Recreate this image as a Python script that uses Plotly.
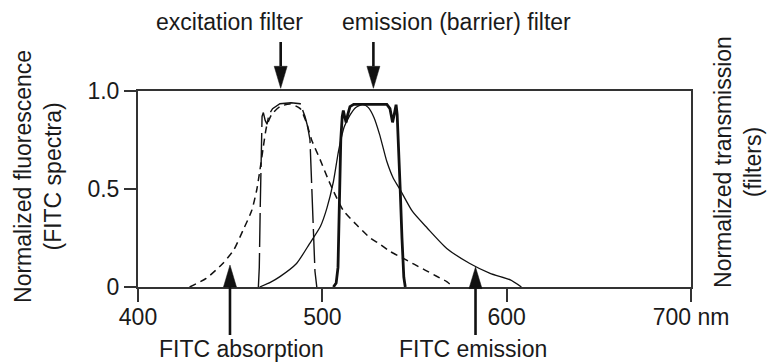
import plotly.graph_objects as go

# ---------------- data ----------------
abs_nm = [428, 437, 446, 452, 457, 461.7, 464.4, 466.2, 468, 469.8, 472.5, 477, 482.5,
          488, 491.5, 494.2, 498.8, 503.3, 506, 511.4, 518.7, 526, 531, 537, 544, 550,
          556, 562, 567.5, 571]
abs_y = [0, 0.044, 0.12, 0.19, 0.29, 0.39, 0.495, 0.60, 0.716, 0.82, 0.88, 0.92, 0.934,
         0.91, 0.835, 0.75, 0.65, 0.546, 0.49, 0.39, 0.316, 0.25, 0.22, 0.18, 0.146, 0.115,
         0.085, 0.055, 0.027, 0]

exc_nm = [465.3, 465.8, 466.3, 466.8, 467.3, 468, 469, 470, 471, 473, 477, 483, 488,
          490.6, 492, 493.3, 494.2, 495.1, 496, 497]
exc_y = [0, 0.1, 0.4, 0.75, 0.87, 0.89, 0.85, 0.83, 0.88, 0.91, 0.935, 0.94, 0.935,
         0.87, 0.82, 0.75, 0.5, 0.24, 0.08, 0]

em_nm = [466, 472, 477, 486, 493, 499, 502.4, 506, 508.7, 510.5, 512, 515, 518, 522,
         525, 528, 531, 533, 535, 538.5, 542, 549, 557, 567.5, 580, 591, 602, 608]
em_y = [0, 0.025, 0.053, 0.12, 0.22, 0.31, 0.40, 0.537, 0.69, 0.77, 0.82, 0.877, 0.915,
        0.932, 0.915, 0.865, 0.78, 0.71, 0.64, 0.555, 0.50, 0.384, 0.30, 0.197, 0.12,
        0.07, 0.036, 0]

bar_nm = [506, 507.5, 508.5, 509.3, 510, 510.8, 511.4, 512.1, 512.9, 513.8, 515, 517,
          535, 536.7, 537.5, 538.1, 539, 540, 540.6, 541.2, 542.2, 543.2, 544.2, 545]
bar_y = [0, 0.02, 0.1, 0.4, 0.75, 0.87, 0.90, 0.87, 0.84, 0.88, 0.92, 0.932,
         0.932, 0.91, 0.87, 0.84, 0.88, 0.93, 0.88, 0.70, 0.51, 0.25, 0.05, 0]

x_ticks = [400, 500, 600, 700]
x_ticktext = ["400", "500", "600", "700 nm"]
y_ticks = [0, 0.5, 1.0]
y_ticktext = ["0", "0.5", "1.0"]

X_RANGE = [400, 700]
FONT = "Liberation Sans, Arial, Helvetica, sans-serif"
INK = "#111111"
TXT = "#1a1a1a"


def px_x(nm):
    """nm -> paper x fraction"""
    return (nm - X_RANGE[0]) / (X_RANGE[1] - X_RANGE[0])


fig = go.Figure()

fig.add_trace(go.Scatter(x=abs_nm, y=abs_y, mode="lines", name="FITC absorption",
                         line=dict(color=INK, width=1.5, dash="7px,5px", shape="spline",
                                   smoothing=0.6)))
fig.add_trace(go.Scatter(x=exc_nm, y=exc_y, mode="lines", name="excitation filter",
                         line=dict(color=INK, width=1.4, dash="34px,6px")))
fig.add_trace(go.Scatter(x=em_nm, y=em_y, mode="lines", name="FITC emission",
                         line=dict(color=INK, width=1.3, shape="spline", smoothing=0.6)))
fig.add_trace(go.Scatter(x=bar_nm, y=bar_y, mode="lines", name="emission (barrier) filter",
                         line=dict(color=INK, width=2.8)))

# ---------------- arrows (decorations, paper coords) ----------------
# (x in nm, tip y, base y, tail y) in paper fraction of plot height
arrows = [
    (477.4, 1.014, 1.126, 1.25),
    (527.7, 1.014, 1.126, 1.25),
    (449.9, 0.112, 0.0, -0.245),
    (583.1, 0.102, -0.008, -0.245),
]
HW = 6.5 / 553  # half width of arrow head in paper x
shapes = []
for nm, tip, base, tail in arrows:
    xp = px_x(nm)
    shapes.append(dict(type="line", xref="paper", yref="paper", x0=xp, x1=xp,
                       y0=base, y1=tail, line=dict(color=INK, width=2.6)))
    shapes.append(dict(type="path", xref="paper", yref="paper",
                       path=f"M {xp - HW},{base} L {xp + HW},{base} L {xp},{tip} Z",
                       fillcolor=INK, line=dict(color=INK, width=0.5)))

annotations = [
    dict(text="excitation filter", x=449.9, xref="x", y=1.352, yref="paper",
         showarrow=False, xanchor="center", yanchor="middle"),
    dict(text="emission (barrier) filter", x=572.8, xref="x", y=1.352, yref="paper",
         showarrow=False, xanchor="center", yanchor="middle"),
    dict(text="FITC absorption", x=455.9, xref="x", y=-0.318, yref="paper",
         showarrow=False, xanchor="center", yanchor="middle"),
    dict(text="FITC emission", x=581.8, xref="x", y=-0.318, yref="paper",
         showarrow=False, xanchor="center", yanchor="middle"),
    dict(text="Normalized fluorescence<br>(FITC spectra)", x=-0.181, xref="paper",
         y=0.566, yref="paper", textangle=-90, showarrow=False,
         xanchor="center", yanchor="middle"),
    dict(text="Normalized transmission<br>(filters)", x=1.085, xref="paper",
         y=0.638, yref="paper", textangle=-90, showarrow=False,
         xanchor="center", yanchor="middle"),
]

fig.update_layout(
    width=771, height=364,
    margin=dict(l=138, r=80, t=91, b=77, pad=0),
    paper_bgcolor="white", plot_bgcolor="white",
    showlegend=False,
    font=dict(family=FONT, size=23, color=TXT),
    shapes=shapes,
    annotations=annotations,
    xaxis=dict(range=X_RANGE, tickvals=x_ticks, ticktext=x_ticktext,
               ticks="outside", ticklen=13, tickwidth=1.8, tickcolor="#333",
               ticklabelstandoff=-5,
               showline=True, linecolor="#333", linewidth=2, mirror=True,
               showgrid=False, zeroline=False, tickfont=dict(size=23, color=TXT)),
    yaxis=dict(range=[0, 1], tickvals=y_ticks, ticktext=y_ticktext,
               ticks="outside", ticklen=12, tickwidth=1.8, tickcolor="#333",
               showline=True, linecolor="#333", linewidth=2, mirror=True,
               showgrid=False, zeroline=False, tickfont=dict(size=23, color=TXT)),
)

fig.write_html(
    "out.html",
    config={"displayModeBar": False},
    post_script="document.body.style.margin='0';document.body.style.overflow='hidden';",
)
